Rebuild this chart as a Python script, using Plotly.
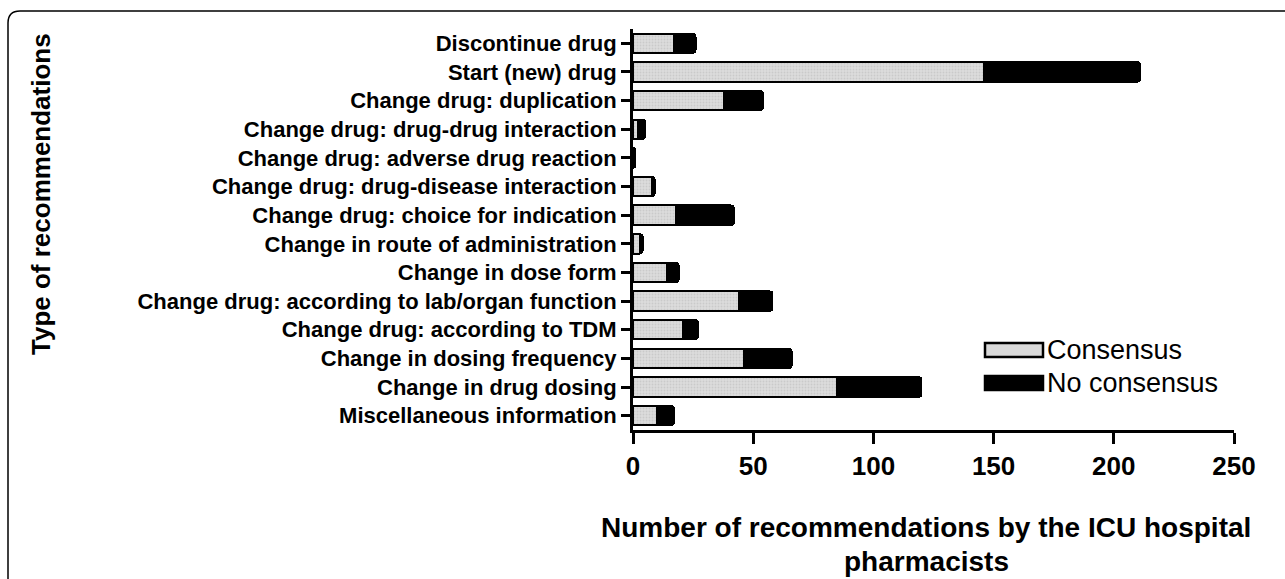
import plotly.graph_objects as go

categories = [
    "Discontinue drug",
    "Start (new) drug",
    "Change drug: duplication",
    "Change drug: drug-drug interaction",
    "Change drug: adverse drug reaction",
    "Change drug: drug-disease interaction",
    "Change drug: choice for indication",
    "Change in route of administration",
    "Change in dose form",
    "Change drug: according to lab/organ function",
    "Change drug: according to TDM",
    "Change in dosing frequency",
    "Change in drug dosing",
    "Miscellaneous information",
]
consensus = [17, 146, 38, 2, 0, 8, 18, 3, 14, 44, 21, 46, 85, 10]
no_consensus = [9, 65, 16, 3, 1, 1, 24, 1, 5, 14, 6, 20, 35, 7]
x_ticks = [0, 50, 100, 150, 200, 250]
legend_names = ["Consensus", "No consensus"]
x_title_lines = ["Number of recommendations by the ICU hospital", "pharmacists"]
y_title = "Type of recommendations"

W, H = 1285, 579
L, R, T, B = 633, 1234, 29, 430
FONT = "Liberation Sans, Arial, sans-serif"


def px(x):
    return (x - L) / (R - L)


def py(y):
    return (B - y) / (B - T)


fig = go.Figure()
fig.add_trace(go.Bar(
    y=categories, x=consensus, orientation="h", name=legend_names[0],
    width=0.68,
    marker=dict(color="#d9d9d9", line=dict(color="black", width=2),
                pattern=dict(shape=".", fgcolor="#b8b8b8", bgcolor="#dcdcdc", size=3, solidity=0.3)),
    showlegend=False,
))
fig.add_trace(go.Bar(
    y=categories, x=no_consensus, orientation="h", name=legend_names[1],
    width=0.68,
    marker=dict(color="black", line=dict(color="black", width=2)),
    showlegend=False,
))

shapes = []
# outer rounded frame
fl, ft, rr = 8, 11, 12
path = (f"M {px(fl)},{py(H + 20)} L {px(fl)},{py(ft + rr)} "
        f"Q {px(fl)},{py(ft)} {px(fl + rr)},{py(ft)} L {px(W + 20)},{py(ft)}")
shapes.append(dict(type="path", xref="paper", yref="paper", path=path,
                   line=dict(color="black", width=1.5), layer="below"))

# legend swatches
sw = [(985, 343, 1043, 357, "#d9d9d9"), (985, 376, 1043, 390, "black")]
annotations = []
for (x0, y0, x1, y1, c), name in zip(sw, legend_names):
    shapes.append(dict(type="rect", xref="paper", yref="paper",
                       x0=px(x0), x1=px(x1), y0=py(y1), y1=py(y0),
                       fillcolor=c, line=dict(color="black", width=2.5)))
    annotations.append(dict(xref="paper", yref="paper", x=px(x1 + 2), y=py((y0 + y1) / 2),
                            text=name, showarrow=False, xanchor="left", yanchor="middle",
                            font=dict(family=FONT, size=27, color="black")))

# y axis title
annotations.append(dict(xref="paper", yref="paper", x=px(41), y=py(194),
                        text=f"<b>{y_title}</b>", textangle=-90, showarrow=False,
                        xanchor="center", yanchor="middle",
                        font=dict(family=FONT, size=26, color="black")))
# x axis title (two lines)
for line, yc in zip(x_title_lines, [527, 561]):
    annotations.append(dict(xref="paper", yref="paper", x=px(926), y=py(yc),
                            text=f"<b>{line}</b>", showarrow=False,
                            xanchor="center", yanchor="middle",
                            font=dict(family=FONT, size=28, color="black")))

fig.update_layout(
    width=W, height=H,
    margin=dict(l=L, r=W - R, t=T, b=H - B, pad=0),
    barmode="stack",
    barcornerradius=3,
    plot_bgcolor="white", paper_bgcolor="white",
    font=dict(family=FONT, color="black"),
    shapes=shapes, annotations=annotations,
    xaxis=dict(range=[0, 250], tickvals=x_ticks, ticktext=[f"<b>{v}</b>" for v in x_ticks],
               showgrid=False, zeroline=False, showline=True, linecolor="black", linewidth=3,
               ticks="outside", ticklen=11, tickwidth=3, tickcolor="black",
               tickfont=dict(family=FONT, size=26, color="black"), fixedrange=True),
    yaxis=dict(categoryorder="array", categoryarray=categories[::-1], range=[-0.5, 13.5],
               tickvals=categories, ticktext=[f"<b>{c}</b>" for c in categories],
               showgrid=False, zeroline=False, showline=True, linecolor="black", linewidth=3,
               ticks="outside", ticklen=9, tickwidth=2.5, tickcolor="black",
               tickfont=dict(family=FONT, size=22, color="black"), fixedrange=True),
)

fig.write_html("out.html", config={"displayModeBar": False},
               post_script="document.body.style.margin='0';document.body.style.overflow='hidden';")
